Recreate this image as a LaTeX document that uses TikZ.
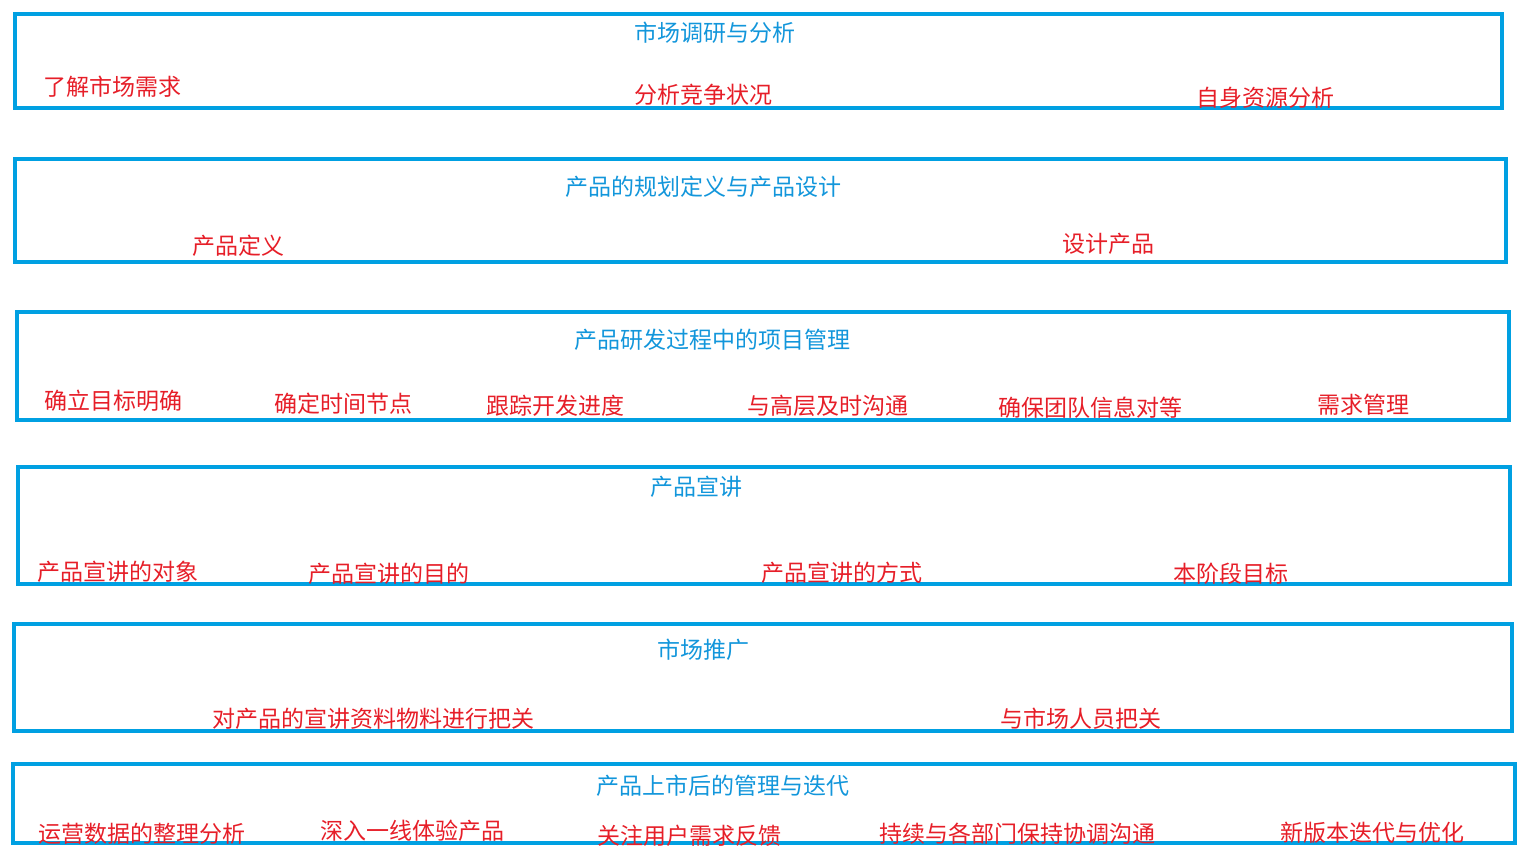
\documentclass[tikz,border=0pt]{standalone}
\usepackage{fontspec}
\newfontfamily\cjk{Noto Sans CJK SC}
\usetikzlibrary{positioning}

\definecolor{frameblue}{RGB}{0,160,226}
\definecolor{titleblue}{RGB}{18,150,219}
\definecolor{itemred}{RGB}{230,30,40}

\begin{document}
\begin{tikzpicture}[x=1pt,y=-1pt,
    stage/.style={draw=frameblue,line width=4pt},
    title/.style={text=titleblue,font=\cjk\fontsize{23}{23}\selectfont,inner sep=0pt,anchor=base},
    item/.style={text=itemred,font=\cjk\fontsize{23}{23}\selectfont,inner sep=0pt,anchor=base west}]
    \useasboundingbox (0,0) rectangle (1532,852);

    \draw[stage] (15,14)  rectangle (1502,108);
    \draw[stage] (15,159) rectangle (1506,262);
    \draw[stage] (17,312) rectangle (1509,420);
    \draw[stage] (18,467) rectangle (1510,584);
    \draw[stage] (14,624) rectangle (1512,731);
    \draw[stage] (13,764) rectangle (1515,843);

    % 市场调研
    \node[title] (t1) at (715,41) {市场调研与分析};
    \node[item] (s11) at (43,95)   {了解市场需求};
    \node[item] (s12) at (634,103) {分析竞争状况};
    \node[item] (s13) at (1196,106) {自身资源分析};

    % 规划与设计
    \node[title] (t2) at (703,195) {产品的规划定义与产品设计};
    \node[item] (s21) at (192,254)  {产品定义};
    \node[item] (s22) at (1062,252) {设计产品};

    % 项目管理
    \node[title] (t3) at (712,348) {产品研发过程中的项目管理};
    \node[item] (s31) at (44,409)   {确立目标明确};
    \node[item] (s32) at (274,412)  {确定时间节点};
    \node[item] (s33) at (486,414)  {跟踪开发进度};
    \node[item] (s34) at (747,414)  {与高层及时沟通};
    \node[item] (s35) at (998,416)  {确保团队信息对等};
    \node[item] (s36) at (1317,413) {需求管理};

    % 宣讲
    \node[title] (t4) at (696,495) {产品宣讲};
    \node[item] (s41) at (37,580)   {产品宣讲的对象};
    \node[item] (s42) at (308,582)  {产品宣讲的目的};
    \node[item] (s43) at (761,581)  {产品宣讲的方式};
    \node[item] (s44) at (1173,582) {本阶段目标};

    % 推广
    \node[title] (t5) at (703,658) {市场推广};
    \node[item] (s51) at (212,727)  {对产品的宣讲资料物料进行把关};
    \node[item] (s52) at (1000,727) {与市场人员把关};

    % 上市后
    \node[title] (t6) at (723,794) {产品上市后的管理与迭代};
    \node[item] (s61) at (38,842)   {运营数据的整理分析};
    \node[item] (s62) at (320,839)  {深入一线体验产品};
    \node[item] (s63) at (597,844)  {关注用户需求反馈};
    \node[item] (s64) at (879,842)  {持续与各部门保持协调沟通};
    \node[item] (s65) at (1280,841) {新版本迭代与优化};
\end{tikzpicture}
\end{document}
